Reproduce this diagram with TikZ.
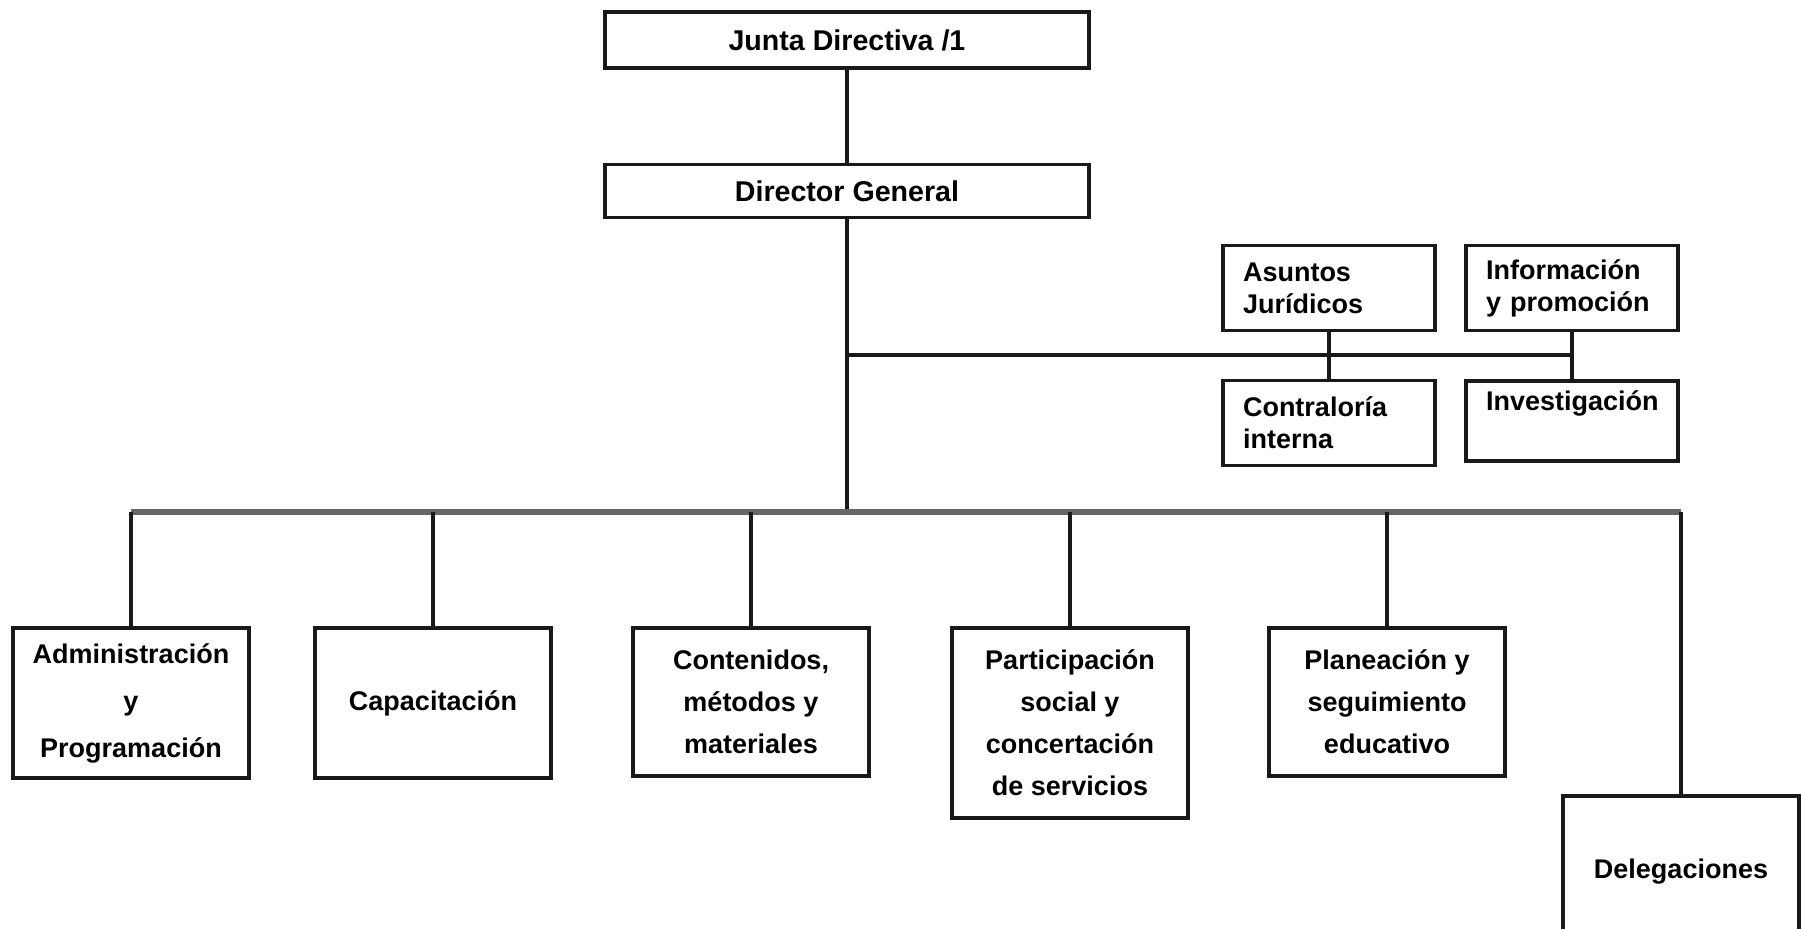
\documentclass[tikz,border=0pt]{standalone}
\usepackage{fontspec}
\setmainfont{Liberation Sans}
\usepackage{tikz}

\begin{document}
\begin{tikzpicture}[x=0.5pt, y=-0.5pt,
    box/.style={draw=black!90, line width=1.8pt, fill=white, align=center,
      font=\fontsize{13.5}{21}\selectfont\bfseries, minimum width=118pt, inner sep=2pt},
    side/.style={box, align=left, text width=86pt, inner xsep=10pt,
      minimum width=105.5pt, minimum height=42.5pt,
      font=\fontsize{13.5}{16}\selectfont\bfseries},
    link/.style={draw=black!90, line width=1.6pt},
    bus/.style={draw=black!60, line width=2.6pt}]
    \useasboundingbox (0, 0) rectangle (1801, 929);
    \node[box, minimum width=242pt, minimum height=28pt, font=\fontsize{14.3}{17}\selectfont\bfseries] (jd) at (847, 40) {Junta Directiva /1};
    \node[box, minimum width=242pt, minimum height=26.5pt, font=\fontsize{14.3}{17}\selectfont\bfseries] (dg) at (847, 191) {Director General};
    \node[side] (aj) at (1329, 288) {Asuntos\\Jurídicos};
    \node[side] (ip) at (1572, 288) {Información\\y promoción};
    \node[side] (ci) at (1329, 423) {Contraloría\\interna};
    \node[side, minimum height=40pt] (iv) at (1572, 421) {Investigación\\\strut};
    \node[box, minimum height=75pt, font=\fontsize{13.5}{23.5}\selectfont\bfseries] (ap) at (131, 703) {Administración\\y\\Programación};
    \node[box, minimum height=75pt] (cp) at (433, 703) {Capacitación};
    \node[box, minimum height=74pt] (cm) at (751, 702) {Contenidos,\\métodos y\\materiales};
    \node[box, minimum height=95pt] (ps) at (1070, 723) {Participación\\social y\\concertación\\de servicios};
    \node[box, minimum height=74pt] (pe) at (1387, 702) {Planeación y\\seguimiento\\educativo};
    \node[box, minimum height=76pt] (dl) at (1681, 872) {Delegaciones};
    \coordinate (s) at (847, 355);
    \coordinate (b) at (847, 512);
    \draw [link] (jd) to (dg);
    \draw [link] (dg) to (b);
    \draw [link] (s) to (s -| ip.south);
    \draw [link] (aj) to (ci);
    \draw [link] (ip) to (iv);
    \draw [bus] (ap.north |- b) to (dl.north |- b);
    \foreach \n in {ap, cp, cm, ps, pe, dl}
      \draw [link] (\n.north |- b) to (\n);
  \end{tikzpicture}
\end{document}
